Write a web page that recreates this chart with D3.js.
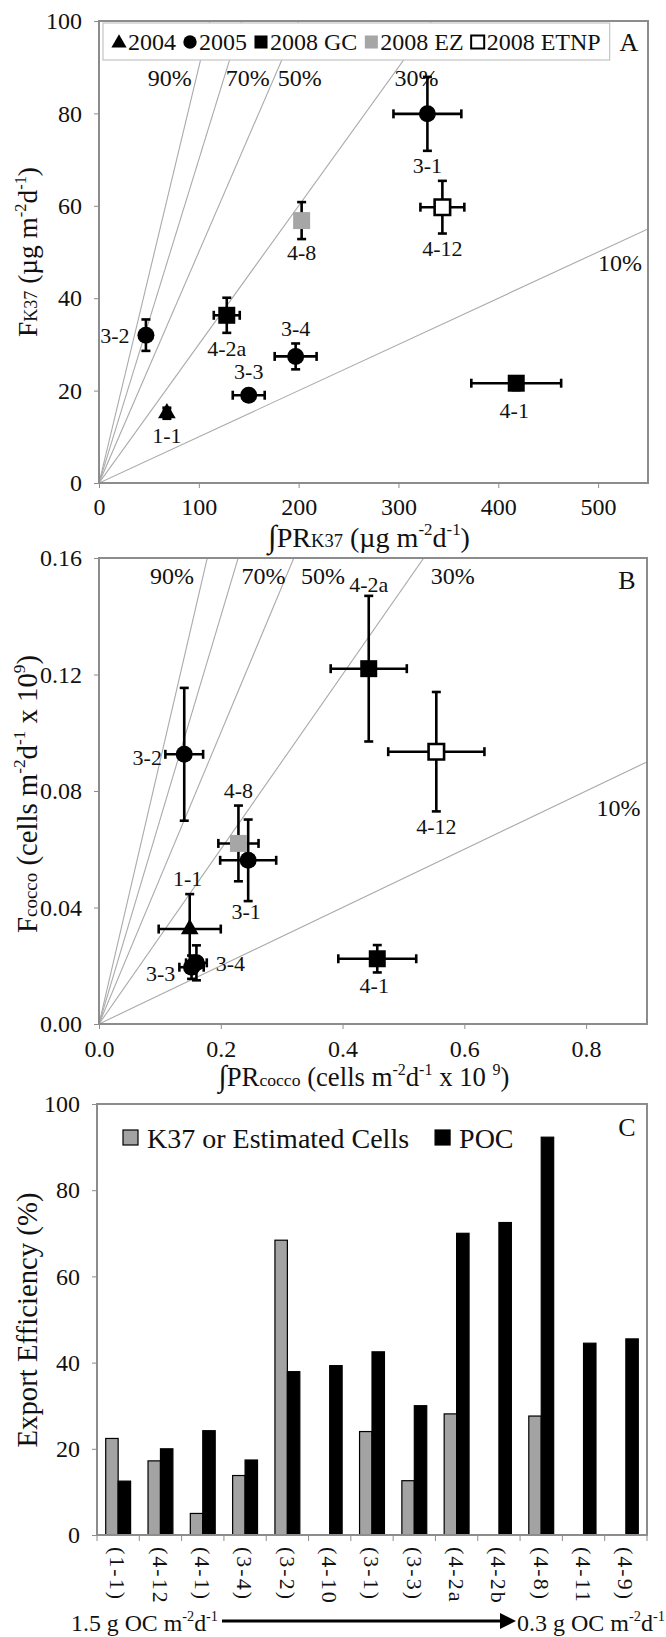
<!DOCTYPE html>
<html>
<head>
<meta charset="utf-8">
<script src="https://cdn.jsdelivr.net/npm/d3@7"></script>
<style>
  body { margin: 0; background: #fff; }
  svg text { font-family: "Liberation Serif", "Times New Roman", serif; fill: #111; white-space: pre; }
</style>
</head>
<body>
<div id="chart"></div>
<script>
let width = 666, height = 1637;

// ---------- panel A : K37 flux vs integrated K37 production ----------
let stationsA = ["1-1", "3-2", "4-2a", "3-4", "3-3", "4-1", "3-1", "4-12", "4-8"];
let groupsA   = ["2004", "2005", "2008 GC", "2005", "2005", "2008 GC", "2005", "2008 ETNP", "2008 EZ"];
let prK37     = [68, 47, 128, 197, 150, 418, 329, 344, 203];
let prK37Err  = [3, 3, 13, 21, 16, 45, 34, 22, 0];
let fK37      = [15.1, 32.0, 36.3, 27.4, 19.0, 21.6, 79.9, 59.7, 56.8];
let fK37Err   = [1.2, 3.4, 3.8, 2.8, 1.2, 1.5, 8.0, 5.7, 4.0];
let xTicksA = [0, 100, 200, 300, 400, 500];
let yTicksA = [0, 20, 40, 60, 80, 100];

// ---------- panel B : coccolith cell flux vs integrated cell production ----------
let stationsB = ["3-2", "4-2a", "4-12", "3-1", "4-8", "1-1", "3-3", "3-4", "4-1"];
let groupsB   = ["2005", "2008 GC", "2008 ETNP", "2005", "2008 EZ", "2004", "2005", "2005", "2008 GC"];
let prCocco    = [0.140, 0.443, 0.554, 0.245, 0.229, 0.149, 0.152, 0.160, 0.457];
let prCoccoErr = [0.031, 0.0625, 0.079, 0.046, 0.033, 0.051, 0.020, 0.017, 0.064];
let fCocco     = [0.0926, 0.122, 0.0935, 0.0562, 0.062, 0.0326, 0.0195, 0.021, 0.0224];
let fCoccoErr  = [0.0228, 0.025, 0.0205, 0.014, 0.013, 0.012, 0.004, 0.006, 0.0047];
let xTicksB = [0, 0.2, 0.4, 0.6, 0.8];
let yTicksB = [0, 0.04, 0.08, 0.12, 0.16];

// export efficiency reference lines (A and B)
let effLevels = [0.9, 0.7, 0.5, 0.3, 0.1];
let effLabels = ["90%", "70%", "50%", "30%", "10%"];

// ---------- panel C : export efficiency ----------
let categoriesC = ["(1-1)", "(4-12", "(4-1)", "(3-4)", "(3-2)", "(4-10", "(3-1)", "(3-3)", "(4-2a", "(4-2b", "(4-8)", "(4-11", "(4-9)"];
let k37Eff = [22.4, 17.2, 5.0, 13.8, 68.4, null, 24.0, 12.6, 28.1, null, 27.6, null, null];
let pocEff = [12.5, 20.0, 24.2, 17.4, 37.9, 39.3, 42.5, 30.0, 70.0, 72.5, 92.3, 44.5, 45.5];
let yTicksC = [0, 20, 40, 60, 80, 100];
let seriesC = ["K37 or Estimated Cells", "POC"];

let legendKeys = ["2004", "2005", "2008 GC", "2008 EZ", "2008 ETNP"];

// placement of annotations (label offsets in px, efficiency labels in data units)
let labelOffsetA = {
  "1-1": [0, 22], "3-2": [-31, 0], "4-2a": [0, 33], "3-4": [0, -28], "3-3": [0, -24],
  "4-1": [-2, 27], "3-1": [0, 51], "4-12": [0, 41], "4-8": [0, 32]
};
let labelOffsetB = {
  "4-2a": [0, -84], "4-12": [0, 75], "3-2": [-37, 3], "4-8": [0, -53], "3-1": [-2, 51],
  "1-1": [-2, -51], "3-3": [-31, 6], "3-4": [34, 0], "4-1": [-3, 27]
};
let effPosA = [[71, 87.7], [149, 87.7], [201, 87.7], [318, 87.7], [522, 47.7]];
let effPosB = [[0.120, 0.1538], [0.270, 0.1538], [0.368, 0.1538], [0.581, 0.1538], [0.853, 0.0742]];

let frameColor = "#8c8c8c";
let lineColor = "#aaaaaa";

let svg = d3.select("#chart")
  .append("svg")
  .attr("width", width)
  .attr("height", height);

let shape = g => g === "2004" ? d3.symbolTriangle : g === "2005" ? d3.symbolCircle : d3.symbolSquare;
let fillOf = g => g === "2008 EZ" ? "#a6a6a6" : g === "2008 ETNP" ? "#fff" : "#000";
let sizeOf = g => g === "2004" ? 135 : g === "2005" ? 227 : 289;

// text with small / superscript parts; optionally fitted to a target length
function richText(parent, parts, size, target) {
  let t = parent.append("text");
  let build = s => {
    t.selectAll("tspan").remove();
    t.attr("font-size", s);
    let base = 0;
    parts.forEach(([str, kind]) => {
      let shift = kind === "sup" ? -0.42 * s : 0;
      let fs = kind === "sup" ? s * 0.6 : kind === "sub" ? s * 0.66 : kind === "big" ? s * 1.12 : s;
      t.append("tspan").attr("font-size", fs).attr("dy", shift - base).text(str);
      base = shift;
    });
  };
  build(size);
  if (target) {
    let w = t.node().getComputedTextLength();
    if (w > 0) build(size * target / w);
  }
  return t;
}

function styleAxis(a, size) {
  a.select(".domain").remove();
  a.attr("font-family", null).attr("font-size", size);
  a.selectAll("line").attr("stroke", frameColor);
  a.selectAll("text").attr("fill", "#111");
}

function scatterPanel(id, x, y, xTicks, yTicks, xFmt, yFmt, xPad, pts, offsets, effPos) {
  let g = svg.append("g");
  let [x0, x1] = x.range();
  let [y0, y1] = y.range();

  g.append("clipPath").attr("id", "clip" + id)
    .append("rect").attr("x", x0).attr("y", y1).attr("width", x1 - x0).attr("height", y0 - y1);

  // efficiency lines through the origin
  g.append("g").attr("clip-path", `url(#clip${id})`)
    .selectAll("line")
    .data(effLevels)
    .enter()
    .append("line")
    .attr("x1", x(0)).attr("y1", y(0))
    .attr("x2", x(x.domain()[1])).attr("y2", p => y(p * x.domain()[1]))
    .attr("stroke", lineColor)
    .attr("stroke-width", 1.1);

  g.selectAll(".eff")
    .data(effLabels)
    .enter()
    .append("text")
    .attr("x", (d, i) => x(effPos[i][0]))
    .attr("y", (d, i) => y(effPos[i][1]))
    .attr("dy", "0.35em")
    .attr("text-anchor", "middle")
    .attr("font-size", 24)
    .text(d => d);

  // frame
  g.append("rect")
    .attr("x", x0).attr("y", y1).attr("width", x1 - x0).attr("height", y0 - y1)
    .attr("fill", "none").attr("stroke", frameColor).attr("stroke-width", 2);

  g.append("g")
    .attr("transform", `translate(0,${y0})`)
    .call(d3.axisBottom(x).tickValues(xTicks).tickFormat(xFmt).tickSize(5).tickPadding(xPad))
    .call(a => styleAxis(a, 24));

  g.append("g")
    .attr("transform", `translate(${x0},0)`)
    .call(d3.axisLeft(y).tickValues(yTicks).tickFormat(yFmt).tickSize(5).tickPadding(12))
    .call(a => styleAxis(a, 24));

  // error bars
  let eb = g.append("g").attr("stroke", "#000").attr("stroke-width", 2.6);
  pts.forEach(p => {
    let cx = x(p.x), cy = y(p.y);
    if (p.xe > 0) {
      let a = x(p.x - p.xe), b = x(p.x + p.xe);
      eb.append("line").attr("x1", a).attr("x2", b).attr("y1", cy).attr("y2", cy);
      eb.append("line").attr("x1", a).attr("x2", a).attr("y1", cy - 4.5).attr("y2", cy + 4.5);
      eb.append("line").attr("x1", b).attr("x2", b).attr("y1", cy - 4.5).attr("y2", cy + 4.5);
    }
    if (p.ye > 0) {
      let a = y(p.y - p.ye), b = y(p.y + p.ye);
      eb.append("line").attr("x1", cx).attr("x2", cx).attr("y1", a).attr("y2", b);
      eb.append("line").attr("x1", cx - 4.5).attr("x2", cx + 4.5).attr("y1", a).attr("y2", a);
      eb.append("line").attr("x1", cx - 4.5).attr("x2", cx + 4.5).attr("y1", b).attr("y2", b);
    }
  });

  g.selectAll(".pt")
    .data(pts)
    .enter()
    .append("path")
    .attr("transform", d => `translate(${x(d.x)},${y(d.y)})`)
    .attr("d", d => d3.symbol().type(shape(d.group)).size(d.group === "2008 ETNP" ? 240 : sizeOf(d.group))())
    .attr("fill", d => fillOf(d.group))
    .attr("stroke", d => d.group === "2008 ETNP" ? "#000" : "none")
    .attr("stroke-width", 2.6);

  g.selectAll(".lab")
    .data(pts)
    .enter()
    .append("text")
    .attr("x", d => x(d.x) + offsets[d.station][0])
    .attr("y", d => y(d.y) + offsets[d.station][1])
    .attr("dy", "0.35em")
    .attr("text-anchor", "middle")
    .attr("font-size", 22)
    .text(d => d.station);

  return g;
}

// ---------------- Panel A ----------------
let xA = d3.scaleLinear().domain([0, 550]).range([99, 648]);
let yA = d3.scaleLinear().domain([0, 100]).range([483, 21]);
let ptsA = stationsA.map((s, i) => ({ station: s, group: groupsA[i], x: prK37[i], xe: prK37Err[i], y: fK37[i], ye: fK37Err[i] }));
let gA = scatterPanel("A", xA, yA, xTicksA, yTicksA, d3.format("d"), d3.format("d"), 10, ptsA, labelOffsetA, effPosA);

// legend A
let legA = gA.append("g");
let legBox = legA.append("rect").attr("fill", "#fff").attr("stroke", "#c4c4c4").attr("stroke-width", 1.2);
let lx = 119;
legendKeys.forEach(k => {
  let small = k === "2004" ? 100 : k === "2005" ? 140 : 170;
  legA.append("path")
    .attr("transform", `translate(${lx},${k === "2004" ? 43 : 42})`)
    .attr("d", d3.symbol().type(shape(k)).size(small)())
    .attr("fill", fillOf(k))
    .attr("stroke", k === "2008 ETNP" ? "#000" : "none")
    .attr("stroke-width", 2);
  let t = legA.append("text").attr("x", lx + 9).attr("y", 42).attr("dy", "0.35em").attr("font-size", 24).text(k);
  lx += 9 + t.node().getComputedTextLength() + 14;
});
legBox.attr("x", 103).attr("y", 23).attr("width", lx - 14 + 9 - 103).attr("height", 37);
gA.append("text").attr("x", 629).attr("y", 42).attr("dy", "0.35em").attr("text-anchor", "middle").attr("font-size", 26).text("A");

richText(gA, [["∫", "big"], ["PR"], ["K37", "sub"], [" (µg m"], ["-2", "sup"], ["d"], ["-1", "sup"], [")"]], 27, 202)
  .attr("x", 369).attr("y", 547).attr("text-anchor", "middle");
richText(gA, [["F"], ["K37", "sub"], [" (µg m"], ["-2", "sup"], ["d"], ["-1", "sup"], [")"]], 27, 170)
  .attr("transform", "translate(37,252) rotate(-90)").attr("text-anchor", "middle");

// ---------------- Panel B ----------------
let xB = d3.scaleLinear().domain([0, 0.9]).range([99, 647]);
let yB = d3.scaleLinear().domain([0, 0.16]).range([1024, 558]);
let ptsB = stationsB.map((s, i) => ({ station: s, group: groupsB[i], x: prCocco[i], xe: prCoccoErr[i], y: fCocco[i], ye: fCoccoErr[i] }));
let gB = scatterPanel("B", xB, yB, xTicksB, yTicksB, d3.format(".1f"), d3.format(".2f"), 11, ptsB, labelOffsetB, effPosB);
gB.append("text").attr("x", 627).attr("y", 580).attr("dy", "0.35em").attr("text-anchor", "middle").attr("font-size", 26).text("B");

richText(gB, [["∫", "big"], ["PR"], ["cocco", "sub"], [" (cells m"], ["-2", "sup"], ["d"], ["-1", "sup"], [" x 10 "], ["9", "sup"], [")"]], 27, 291)
  .attr("x", 364).attr("y", 1086).attr("text-anchor", "middle");
richText(gB, [["F"], ["cocco", "sub"], [" (cells m"], ["-2", "sup"], ["d"], ["-1", "sup"], [" x 10"], ["9", "sup"], [")"]], 27, 278)
  .attr("transform", "translate(37,794) rotate(-90)").attr("text-anchor", "middle");

// ---------------- Panel C ----------------
let gC = svg.append("g");
let x0C = d3.scaleBand().domain(categoriesC).range([97, 647]).padding(0);
let x1C = d3.scaleBand().domain(seriesC).range([0, x0C.bandwidth()]).paddingInner(0).paddingOuter(0.7);
let yC = d3.scaleLinear().domain([0, 100]).range([1535, 1104]);
let colorC = d3.scaleOrdinal().domain(seriesC).range(["#a3a3a3", "#000"]);

let barData = categoriesC.flatMap((c, i) => [
  { cat: c, series: seriesC[0], value: k37Eff[i] },
  { cat: c, series: seriesC[1], value: pocEff[i] }
]).filter(d => d.value != null);

gC.append("g")
  .selectAll("rect")
  .data(barData)
  .enter()
  .append("rect")
  .attr("x", d => x0C(d.cat) + x1C(d.series))
  .attr("y", d => yC(d.value))
  .attr("width", x1C.bandwidth())
  .attr("height", d => yC(0) - yC(d.value))
  .attr("fill", d => colorC(d.series))
  .attr("stroke", "#000")
  .attr("stroke-width", 1.2);

gC.append("rect")
  .attr("x", 97).attr("y", 1104).attr("width", 550).attr("height", 431)
  .attr("fill", "none").attr("stroke", frameColor).attr("stroke-width", 2);

gC.append("g")
  .attr("transform", "translate(97,0)")
  .call(d3.axisLeft(yC).tickValues(yTicksC).tickFormat(d3.format("d")).tickSize(5).tickPadding(12))
  .call(a => styleAxis(a, 24));

// tick marks between categories
gC.append("g")
  .selectAll("line")
  .data(categoriesC.map(c => x0C(c)).concat([x0C.range()[1]]))
  .enter()
  .append("line")
  .attr("x1", d => d).attr("x2", d => d)
  .attr("y1", 1535).attr("y2", 1541)
  .attr("stroke", frameColor);

gC.append("g")
  .selectAll("text")
  .data(categoriesC)
  .enter()
  .append("text")
  .attr("transform", d => `translate(${x0C(d) + x0C.bandwidth() / 2},1547) rotate(90)`)
  .attr("dy", "0.35em")
  .attr("font-size", 22)
  .attr("letter-spacing", 2)
  .text(d => d);

// legend C
let legC = gC.append("g");
let cx = 123;
seriesC.forEach(s => {
  legC.append("rect").attr("x", cx).attr("y", 1130).attr("width", 15).attr("height", 15)
    .attr("fill", colorC(s)).attr("stroke", "#000").attr("stroke-width", 1.2);
  let t = legC.append("text").attr("x", cx + 24).attr("y", 1138).attr("dy", "0.35em").attr("font-size", 28).text(s);
  cx += 24 + t.node().getComputedTextLength() + 26;
});
gC.append("text").attr("x", 627).attr("y", 1127).attr("dy", "0.35em").attr("text-anchor", "middle").attr("font-size", 26).text("C");

richText(gC, [["Export Efficiency (%)"]], 28, 255)
  .attr("transform", "translate(37,1320) rotate(-90)")
  .attr("text-anchor", "middle");

// productivity gradient arrow
richText(gC, [["1.5 g OC m"], ["-2", "sup"], ["d"], ["-1", "sup"]], 26, 147)
  .attr("x", 218).attr("y", 1631).attr("text-anchor", "end");
gC.append("line").attr("x1", 222).attr("x2", 502).attr("y1", 1621).attr("y2", 1621)
  .attr("stroke", "#000").attr("stroke-width", 3);
gC.append("path").attr("d", "M500,1613L516,1621L500,1629Z").attr("fill", "#000");
richText(gC, [["0.3 g OC m"], ["-2", "sup"], ["d"], ["-1", "sup"]], 26, 148)
  .attr("x", 517).attr("y", 1631);
</script>
</body>
</html>
